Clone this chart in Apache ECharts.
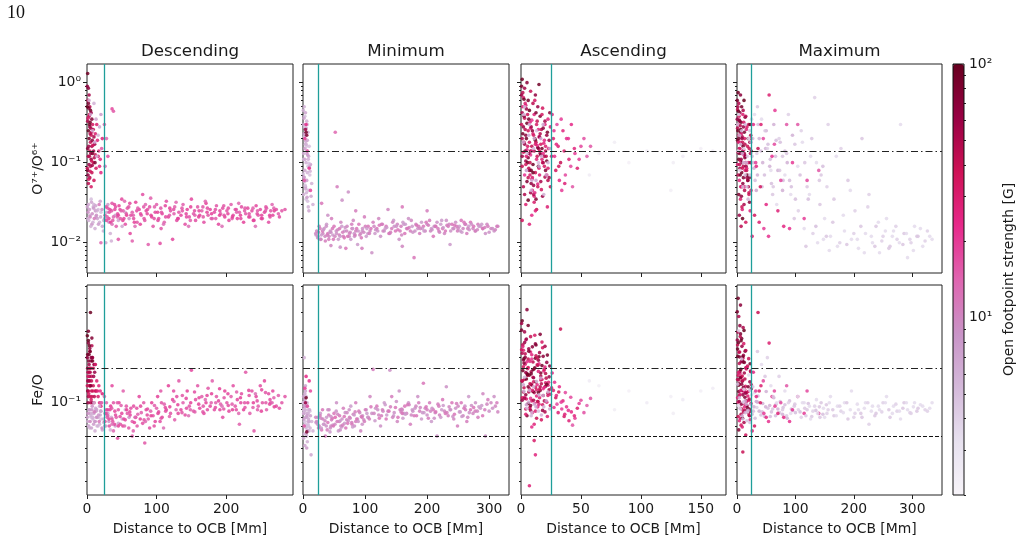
<!DOCTYPE html>
<html>
<head>
<meta charset="utf-8">
<script src="https://cdn.jsdelivr.net/npm/echarts@6/dist/echarts.min.js"></script>
<style>
html, body { margin: 0; padding: 0; background: #fff; }
#main { width: 1022px; height: 560px; }
</style>
</head>
<body>
<div id="main"></div>
<script>
// each point: [distance to OCB (Mm), open footpoint strength (G), O7+/O6+, Fe/O]
var descending = [
	[1,90,1.3,0.21],[2,70,0.85,0.25],[3,55,0.7,0.18],[2,80,0.55,0.3],[4,45,0.5,0.22],[5,95,0.45,0.4],[6,60,0.42,0.19],[3,40,0.38,0.16],
	[7,75,0.35,0.27],[1,50,0.33,0.14],[8,35,0.3,0.2],[4,65,0.28,0.23],[9,45,0.26,0.17],[2,100,0.25,0.26],[6,38,0.22,0.15],[10,55,0.21,0.18],
	[3,85,0.2,0.21],[5,42,0.18,0.13],[11,60,0.17,0.16],[7,48,0.16,0.24],[1,70,0.15,0.12],[4,36,0.14,0.14],[8,90,0.13,0.19],[12,40,0.125,0.12],
	[2,52,0.12,0.11],[6,66,0.11,0.2],[9,38,0.1,0.13],[3,58,0.095,0.15],[5,44,0.09,0.1],[13,35,0.085,0.12],[1,78,0.08,0.17],[7,40,0.075,0.11],
	[4,50,0.065,0.13],[10,36,0.06,0.1],[2,46,0.055,0.12],[6,34,0.05,0.105],
	[0.5,65,0.9,0.2],[1.5,45,0.6,0.16],[2.5,75,0.48,0.19],[3.5,38,0.4,0.13],[4.5,88,0.32,0.22],[5.5,52,0.27,0.17],[6.5,42,0.24,0.14],[7.5,68,0.19,0.2],
	[8.5,36,0.165,0.12],[9.5,58,0.14,0.15],[10.5,46,0.115,0.11],[11.5,80,0.1,0.18],[0.5,40,0.085,0.13],[1.5,62,0.07,0.1],[2.5,35,0.062,0.115],[3.5,92,0.3,0.24],
	[4.5,48,0.23,0.16],[5.5,70,0.13,0.13],[6.5,38,0.105,0.12],[7.5,55,0.092,0.1],[0.5,100,0.5,0.28],[1.5,33,0.36,0.15],[2.5,58,0.16,0.14],[3.5,44,0.12,0.17],[4.5,37,0.078,0.11],
	[14,30,0.3,0.14],[15,28,0.19,0.12],[16,32,0.12,0.11],[18,26,0.09,0.1],[12,30,0.23,0.18],[17,27,0.14,0.13],[20,25,0.075,0.095],[19,24,0.11,0.12],[22,28,0.2,0.115],
	[3,6,0.6,0.09],[5,7,0.4,0.085],[8,6,0.25,0.08],[11,8,0.18,0.075],[14,6,0.12,0.09],[6,5,0.035,0.08],[2,7,0.03,0.07],[9,6,0.028,0.085],
	[12,8,0.025,0.075],[4,6,0.022,0.068],[15,7,0.02,0.08],[18,6,0.018,0.072],[7,9,0.017,0.09],[20,5,0.024,0.078],[22,7,0.016,0.066],[10,6,0.03,0.1],
	[16,5,0.026,0.07],[13,8,0.021,0.088],[24,6,0.019,0.074],[19,7,0.033,0.083],[1,6,0.02,0.075],[27,7,0.01,0.07],[35,6,0.0105,0.08],[45,7,0.019,0.073],
	[55,6,0.024,0.09],[30,8,0.03,0.085],[10,6,0.55,0.085],[13,7,0.35,0.09],[16,6,0.22,0.08],[18,7,0.28,0.095],[20,8,0.4,0.088],
	[0.5,7,0.028,0.08],[1.5,9,0.024,0.085],[2.5,6,0.019,0.07],[3.5,8,0.026,0.09],[4.5,10,0.021,0.075],[5.5,6,0.016,0.082],[6.5,7,0.032,0.068],[7.5,9,0.023,0.095],
	[8.5,6,0.018,0.078],[9.5,8,0.027,0.072],[10.5,11,0.02,0.087],[11.5,6,0.015,0.065],[12.5,7,0.029,0.092],[13.5,9,0.022,0.08],[14.5,6,0.025,0.07],[16.5,8,0.017,0.083],
	[17.5,12,0.03,0.075],[19.5,7,0.021,0.088],[21.5,9,0.026,0.068],[23.5,6,0.014,0.078],[25.5,8,0.02,0.07],[28.5,7,0.024,0.083],[31.5,9,0.018,0.075],[33.5,6,0.013,0.066],
	[40.5,8,0.022,0.07],[50.5,7,0.016,0.078],[60.5,9,0.02,0.08],
	[36,18,0.47,0.13],[38,16,0.44,0.1],[25,15,0.3,0.11],[28,14,0.2,0.1],[30,17,0.12,0.09],[21,16,0.15,0.1],[26,12,0.09,0.085],
	[26,16,0.022,0.075],[28,18,0.019,0.09],[30,15,0.027,0.082],[32,17,0.024,0.07],[34,20,0.018,0.095],[36,16,0.031,0.078],[38,14,0.021,0.065],[40,18,0.026,0.088],
	[42,15,0.016,0.08],[44,17,0.023,0.058],[46,19,0.029,0.1],[48,16,0.02,0.072],[50,18,0.035,0.085],[52,15,0.025,0.12],[55,17,0.017,0.077],[57,20,0.022,0.09],
	[60,16,0.028,0.068],[62,18,0.013,0.083],[65,15,0.024,0.075],[67,17,0.02,0.095],[70,19,0.032,0.08],[72,16,0.018,0.07],[75,18,0.026,0.11],[78,15,0.022,0.086],
	[80,17,0.04,0.073],[83,16,0.019,0.054],[85,18,0.025,0.09],[88,15,0.0095,0.078],[90,17,0.028,0.068],[93,19,0.021,0.1],[95,16,0.016,0.082],[98,18,0.024,0.075],
	[100,15,0.03,0.092],[103,17,0.02,0.087],[106,16,0.027,0.12],[108,18,0.023,0.08],[111,15,0.018,0.098],[114,17,0.033,0.09],[117,19,0.021,0.13],[120,16,0.025,0.085],
	[123,18,0.011,0.105],[126,15,0.028,0.077],[129,17,0.019,0.11],[132,16,0.024,0.14],[135,18,0.022,0.09],[138,15,0.03,0.1],[141,17,0.017,0.083],[144,19,0.026,0.12],
	[147,16,0.021,0.095],[150,18,0.035,0.165],[153,15,0.023,0.088],[156,17,0.019,0.105],[159,16,0.028,0.13],[162,18,0.022,0.092],[165,15,0.025,0.11],[168,17,0.018,0.085],
	[171,19,0.031,0.1],[174,16,0.022,0.125],[177,18,0.026,0.095],[180,15,0.02,0.14],[183,17,0.024,0.09],[186,16,0.029,0.11],[189,18,0.017,0.103],[192,15,0.023,0.098],
	[195,17,0.027,0.08],[198,19,0.021,0.12],[201,16,0.025,0.1],[204,18,0.019,0.088],[207,15,0.03,0.11],[210,17,0.022,0.13],[213,16,0.026,0.095],[216,18,0.02,0.105],
	[219,15,0.024,0.072],[222,17,0.028,0.115],[225,19,0.018,0.09],[228,16,0.023,0.16],[231,18,0.027,0.1],[234,15,0.021,0.085],[237,17,0.025,0.12],[240,16,0.019,0.065],
	[243,18,0.029,0.11],[246,15,0.022,0.095],[249,17,0.026,0.13],[252,16,0.02,0.1],[255,18,0.024,0.14],[258,15,0.027,0.09],[261,17,0.018,0.115],[264,16,0.025,0.1],
	[267,18,0.022,0.12],[272,17,0.026,0.095],[280,16,0.025,0.1],
	[27.5,17,0.028,0.085],[31.5,19,0.02,0.078],[35.5,16,0.025,0.092],[39.5,18,0.03,0.072],[43.5,15,0.021,0.1],[47.5,17,0.026,0.081],[51.5,19,0.019,0.07],[56.5,16,0.023,0.095],
	[61.5,18,0.031,0.087],[66.5,15,0.022,0.065],[71.5,17,0.025,0.092],[76.5,19,0.017,0.078],[81.5,16,0.028,0.1],[86.5,18,0.023,0.083],[91.5,15,0.036,0.088],[96.5,17,0.02,0.07],
	[101.5,19,0.024,0.11],[106.5,16,0.015,0.079],[112.5,18,0.029,0.093],[118.5,15,0.022,0.081],[124.5,17,0.026,0.12],[130.5,19,0.02,0.097],[136.5,16,0.027,0.086],[142.5,18,0.023,0.107],
	[148.5,15,0.019,0.09],[154.5,17,0.025,0.118],[160.5,19,0.021,0.098],[166.5,16,0.028,0.087],[172.5,18,0.024,0.112],[178.5,15,0.02,0.1],[184.5,17,0.026,0.093],[190.5,19,0.022,0.124],
	[196.5,16,0.029,0.091],[202.5,18,0.023,0.115],[208.5,15,0.02,0.098],[214.5,17,0.026,0.09],[220.5,19,0.022,0.108],[226.5,16,0.025,0.1],[232.5,18,0.021,0.121],[238.5,15,0.027,0.093],
	[244.5,17,0.023,0.103],[250.5,19,0.02,0.088],[256.5,16,0.025,0.117],[262.5,18,0.022,0.098],[268.5,15,0.027,0.108],[276.5,17,0.021,0.092],[284.5,16,0.026,0.11],
	[65,15,0.0105,0.06],[105,17,0.0098,0.075],[45,16,0.011,0.09],[20,14,0.01,0.1],
	[29,15,0.021,0.08],[33,18,0.026,0.09],[37,16,0.019,0.075],[41,17,0.028,0.083],[45,19,0.022,0.07],[49,15,0.025,0.096],[53,18,0.02,0.078],[58,16,0.027,0.085],
	[63,17,0.022,0.092],[68,19,0.018,0.074],[73,15,0.027,0.084],[77,18,0.023,0.095],[82,16,0.02,0.077],[87,17,0.026,0.091],[92,19,0.022,0.082],[97,15,0.028,0.096],
	[102,18,0.019,0.085],[107,16,0.024,0.1],[113,17,0.021,0.088],[119,19,0.027,0.094],[125,15,0.023,0.102],[131,18,0.02,0.085],[137,16,0.025,0.112],[143,17,0.021,0.092],
	[149,19,0.028,0.1],[155,15,0.022,0.087],[161,18,0.025,0.108],[167,16,0.021,0.095],[173,17,0.027,0.09],[179,19,0.023,0.115],[185,15,0.02,0.1],[191,18,0.025,0.09],
	[197,16,0.022,0.108],[203,17,0.027,0.096],[209,19,0.021,0.09],[215,15,0.024,0.118],[221,18,0.02,0.1],[227,16,0.027,0.093],[233,17,0.023,0.112],[239,19,0.019,0.1],
	[245,15,0.025,0.09],[251,18,0.022,0.122],[257,16,0.028,0.1],[263,17,0.021,0.105],[269,19,0.025,0.094],[275,15,0.023,0.112],
	[36,13,0.017,0.072],[54,14,0.033,0.07],[69,13,0.016,0.08],[84,14,0.03,0.075],[110,13,0.017,0.068],[128,14,0.032,0.09],[146,13,0.016,0.082],[170,14,0.033,0.105],
	[194,13,0.016,0.095],[218,14,0.031,0.085],[242,13,0.016,0.115],[266,14,0.03,0.1]
];
var minimum = [
	[2,6,0.5,0.2],[4,7,0.42,0.12],[3,5,0.38,0.09],[6,6,0.33,0.08],[1,7,0.3,0.11],[5,8,0.27,0.1],[8,6,0.24,0.075],[2,5,0.21,0.07],
	[7,7,0.19,0.085],[4,6,0.17,0.095],[10,5,0.16,0.065],[3,8,0.15,0.105],[6,6,0.13,0.06],[9,7,0.12,0.078],[1,5,0.11,0.09],[5,6,0.1,0.068],
	[12,8,0.095,0.082],[8,5,0.09,0.072],[3,7,0.08,0.115],[7,6,0.075,0.055],[11,5,0.07,0.088],[2,6,0.065,0.062],[6,8,0.06,0.05],[14,6,0.055,0.075],
	[4,7,0.05,0.13],[9,5,0.045,0.07],[1,6,0.04,0.085],[13,7,0.038,0.045],[5,5,0.035,0.08],[16,6,0.03,0.065],
	[0.5,6,0.45,0.1],[1.5,7,0.36,0.085],[2.5,5,0.28,0.075],[3.5,6,0.22,0.09],[4.5,7,0.185,0.08],[5.5,5,0.16,0.07],[6.5,6,0.14,0.095],[7.5,8,0.125,0.065],
	[8.5,6,0.11,0.085],[9.5,5,0.098,0.075],[10.5,7,0.088,0.09],[11.5,6,0.078,0.068],[0.5,5,0.072,0.1],[1.5,8,0.066,0.078],[2.5,6,0.058,0.088],[3.5,5,0.052,0.072],
	[4.5,7,0.047,0.095],[5.5,6,0.042,0.062],[6.5,8,0.037,0.082],[7.5,5,0.033,0.07],[8.5,6,0.028,0.09],[9.5,7,0.025,0.075],[1,6,0.13,0.058],[3,7,0.11,0.052],
	[5,6,0.17,0.11],[2,8,0.23,0.095],[7,5,0.3,0.1],
	[5,90,0.24,0.108],[6,80,0.22,0.064],[4,60,0.26,0.1],
	[3,20,0.2,0.125],[7,18,0.14,0.095],[10,22,0.085,0.14],[2,16,0.06,0.07],[12,18,0.045,0.12],[5,24,0.3,0.15],
	[22,10,0.014,0.075],[24,9,0.012,0.08],[26,11,0.016,0.07],[28,8,0.011,0.085],[30,12,0.031,0.066],[32,10,0.013,0.078],[34,9,0.015,0.072],[36,11,0.0105,0.06],
	[38,8,0.017,0.08],[40,12,0.013,0.074],[42,10,0.012,0.09],[44,9,0.014,0.068],[46,11,0.02,0.077],[48,8,0.0125,0.071],[50,12,0.016,0.085],[52,14,0.24,0.08],
	[54,9,0.013,0.1],[55,11,0.05,0.075],[57,8,0.011,0.065],[59,12,0.015,0.082],[61,10,0.018,0.07],[63,9,0.034,0.078],[65,11,0.012,0.092],[67,8,0.014,0.073],
	[69,12,0.0085,0.068],[71,10,0.016,0.086],[73,9,0.043,0.076],[75,11,0.013,0.08],[77,8,0.011,0.095],[79,12,0.015,0.072],[81,10,0.019,0.084],[83,9,0.012,0.07],
	[85,11,0.014,0.1],[88,8,0.0095,0.078],[90,12,0.017,0.088],[93,10,0.013,0.065],[96,9,0.015,0.082],[99,11,0.021,0.075],[102,8,0.012,0.09],[105,12,0.016,0.08],
	[108,10,0.014,0.11],[111,9,0.0075,0.085],[113,11,0.018,0.167],[116,8,0.013,0.076],[119,12,0.015,0.095],[122,10,0.02,0.083],[125,9,0.012,0.07],[128,11,0.017,0.09],
	[131,8,0.014,0.1],[134,12,0.016,0.078],[137,10,0.026,0.088],[140,9,0.013,0.165],[143,11,0.015,0.11],[146,8,0.019,0.082],[149,12,0.014,0.093],[152,10,0.017,0.075],
	[155,9,0.011,0.12],[158,11,0.016,0.087],[161,8,0.018,0.079],[164,12,0.013,0.095],[167,10,0.015,0.085],[170,9,0.02,0.1],[173,11,0.014,0.072],[176,8,0.016,0.09],
	[179,12,0.0065,0.082],[182,10,0.017,0.095],[185,9,0.015,0.11],[188,11,0.013,0.088],[191,8,0.018,0.078],[194,12,0.016,0.135],[197,10,0.014,0.092],[200,9,0.017,0.083],
	[204,11,0.019,0.1],[207,8,0.015,0.075],[210,12,0.012,0.09],[213,10,0.016,0.086],[216,9,0.018,0.06],[219,11,0.014,0.095],[222,8,0.017,0.08],[225,12,0.015,0.105],
	[228,10,0.013,0.088],[231,9,0.019,0.128],[234,11,0.016,0.082],[237,8,0.0095,0.09],[240,12,0.017,0.1],[243,10,0.015,0.078],[246,9,0.018,0.092],[249,11,0.014,0.07],
	[252,8,0.016,0.087],[255,12,0.019,0.1],[258,10,0.015,0.082],[261,9,0.017,0.095],[264,11,0.013,0.075],[267,8,0.016,0.11],[270,12,0.018,0.09],[274,10,0.015,0.085],
	[278,9,0.014,0.1],[282,11,0.017,0.08],[286,8,0.016,0.092],[290,10,0.015,0.115],[294,9,0.013,0.06],[298,11,0.016,0.105],[303,10,0.015,0.1],[308,9,0.014,0.11],
	[314,10,0.016,0.087],
	[20.5,10,0.013,0.08],[23.5,9,0.0115,0.072],[27.5,11,0.015,0.082],[29.5,8,0.0125,0.068],[31.5,12,0.014,0.09],[35.5,10,0.012,0.076],[37.5,9,0.016,0.07],[41.5,11,0.011,0.083],
	[43.5,8,0.0135,0.064],[47.5,12,0.015,0.079],[51.5,10,0.012,0.072],[53.5,9,0.014,0.088],[58.5,11,0.0125,0.075],[62.5,8,0.016,0.069],[66.5,12,0.0115,0.081],[70.5,10,0.014,0.077],
	[74.5,9,0.012,0.09],[78.5,11,0.017,0.074],[82.5,8,0.013,0.083],[86.5,12,0.015,0.078],[91.5,10,0.0125,0.086],[95.5,9,0.014,0.072],[100.5,11,0.016,0.09],[104.5,8,0.013,0.08],
	[109.5,12,0.015,0.094],[114.5,10,0.016,0.085],[120.5,9,0.014,0.09],[126.5,11,0.017,0.082],[132.5,8,0.015,0.097],[138.5,12,0.013,0.088],[144.5,10,0.018,0.08],[150.5,9,0.016,0.102],
	[156.5,11,0.014,0.09],[162.5,8,0.017,0.085],[168.5,12,0.015,0.097],[174.5,10,0.019,0.083],[180.5,9,0.014,0.092],[186.5,11,0.016,0.1],[192.5,8,0.015,0.086],[198.5,12,0.018,0.094],
	[205.5,10,0.014,0.088],[211.5,9,0.016,0.079],[217.5,11,0.015,0.098],[223.5,8,0.019,0.09],[229.5,12,0.014,0.085],[235.5,10,0.017,0.094],[241.5,9,0.015,0.081],[247.5,11,0.016,0.099],
	[253.5,8,0.014,0.087],[259.5,12,0.018,0.092],[265.5,10,0.015,0.08],[271.5,9,0.017,0.096],[277.5,11,0.014,0.088],[283.5,8,0.016,0.094],[289.5,12,0.015,0.082],[296.5,10,0.017,0.098],
	[305.5,9,0.015,0.092],[312.5,11,0.016,0.1],
	[45,10,0.0092,0.07],[60,9,0.0088,0.066],[95,11,0.0085,0.08],[160,10,0.009,0.09],[40,9,0.022,0.09],[85,11,0.025,0.075],[160,12,0.028,0.085],[200,11,0.025,0.09],
	[21,9,0.0125,0.074],[25,11,0.0135,0.068],[29,10,0.011,0.079],[33,8,0.0145,0.072],[39,11,0.0125,0.066],[45,9,0.0135,0.081],[49,12,0.011,0.07],[56,10,0.0145,0.084],
	[60,8,0.012,0.076],[64,11,0.0135,0.071],[68,9,0.0155,0.086],[72,12,0.012,0.073],[76,10,0.0135,0.079],[80,8,0.015,0.069],[84,11,0.0125,0.087],[89,9,0.014,0.075],
	[94,12,0.0115,0.081],[98,10,0.0135,0.077],[103,8,0.015,0.085],[107,11,0.013,0.078],[117,9,0.0145,0.092],[123,12,0.0165,0.079],[129,10,0.014,0.088],[135,8,0.0155,0.083],
	[141,11,0.0135,0.094],[147,9,0.016,0.086],[153,12,0.0145,0.08],[159,10,0.0125,0.091],[165,8,0.017,0.084],[171,11,0.0155,0.097],[177,9,0.0135,0.088],[183,12,0.0165,0.082],
	[189,10,0.015,0.093],[195,8,0.014,0.086],[202,11,0.0165,0.079],[208,9,0.0145,0.092],[214,12,0.016,0.087],[220,10,0.0135,0.083],[226,8,0.0155,0.096],[232,11,0.0165,0.086],
	[238,9,0.014,0.09],[244,12,0.0165,0.084],[250,10,0.015,0.095],[256,8,0.0135,0.081],[262,11,0.017,0.09],[268,9,0.0145,0.086],[275,12,0.016,0.093],[281,10,0.0145,0.088],
	[288,8,0.017,0.096],[293,11,0.0155,0.09],[300,9,0.0135,0.088],[310,10,0.0145,0.095]
];
var ascending = [
	[1,95,1.1,0.352],[5,70,1.0,0.418],[15,90,0.95,0.203],[3,55,0.85,0.297],[8,40,0.78,0.276],[12,65,0.7,0.247],[2,30,0.65,0.224],[6,85,0.6,0.328],
	[10,45,0.55,0.187],[4,25,0.52,0.262],[14,60,0.5,0.178],[18,35,0.48,0.233],[7,100,0.45,0.153],[1,50,0.42,0.214],[11,28,0.4,0.168],[16,75,0.38,0.286],
	[3,40,0.36,0.143],[9,22,0.34,0.196],[20,55,0.33,0.238],[5,90,0.31,0.157],[13,32,0.3,0.122],[2,65,0.28,0.193],[8,26,0.27,0.218],[17,45,0.26,0.134],
	[6,38,0.25,0.172],[22,80,0.24,0.208],[10,30,0.23,0.148],[4,70,0.22,0.113],[15,24,0.21,0.182],[1,48,0.2,0.139],[12,95,0.19,0.198],[7,34,0.18,0.124],
	[19,27,0.175,0.163],[3,60,0.17,0.252],[9,42,0.16,0.131],[14,85,0.155,0.102],[23,29,0.15,0.137],[5,23,0.145,0.188],[11,52,0.14,0.117],[2,36,0.135,0.174],
	[16,68,0.13,0.121],[8,21,0.125,0.107],[21,44,0.12,0.146],[6,78,0.115,0.128],[13,26,0.11,0.111],[4,58,0.105,0.159],[18,33,0.1,0.097],[10,90,0.095,0.119],
	[1,40,0.09,0.141],[15,28,0.085,0.098],[7,64,0.08,0.092],[12,37,0.075,0.127],[3,22,0.07,0.109],[20,50,0.066,0.087],[9,30,0.062,0.103],[5,75,0.058,0.082],
	[14,25,0.054,0.094],[2,45,0.05,0.118],[17,35,0.046,0.077],[8,55,0.042,0.089],[11,27,0.038,0.072],[6,95,0.034,0.099],[4,30,0.03,0.084],[13,40,0.026,0.079],
	[9,24,0.022,0.069],[1,35,0.019,0.108],[7,28,0.017,0.028],[11,32,0.032,0.056],[12,26,0.025,0.045],
	[0.5,80,0.9,0.305],[1.5,45,0.75,0.244],[2.5,95,0.62,0.197],[3.5,30,0.55,0.181],[4.5,60,0.47,0.266],[5.5,38,0.4,0.152],[6.5,85,0.35,0.221],[7.5,26,0.32,0.189],
	[8.5,55,0.28,0.161],[9.5,70,0.25,0.236],[10.5,34,0.22,0.138],[11.5,90,0.2,0.171],[12.5,42,0.18,0.206],[13.5,24,0.165,0.132],[14.5,65,0.15,0.192],[15.5,36,0.14,0.123],
	[16.5,80,0.125,0.158],[17.5,28,0.11,0.143],[18.5,50,0.1,0.112],[19.5,33,0.09,0.167],[20.5,75,0.08,0.129],[21.5,27,0.07,0.101],[22.5,45,0.06,0.116],[23.5,60,0.19,0.149],
	[24.5,30,0.28,0.114],[0.5,35,0.3,0.226],[1.5,88,0.23,0.164],[2.5,40,0.18,0.126],[3.5,72,0.14,0.201],[4.5,29,0.12,0.106],[5.5,95,0.1,0.154],[6.5,46,0.085,0.118],
	[7.5,31,0.07,0.093],[8.5,66,0.055,0.133],[9.5,25,0.045,0.086],[10.5,50,0.04,0.104],[11.5,33,0.6,0.282],[12.5,78,0.42,0.243],[13.5,40,0.33,0.199],[14.5,27,0.26,0.162],
	[15.5,57,0.21,0.216],[16.5,35,0.17,0.142],[17.5,85,0.15,0.177],[18.5,24,0.13,0.124],[19.5,48,0.12,0.103],[20.5,30,0.16,0.136],[21.5,62,0.22,0.186],[22.5,26,0.35,0.131],
	[0.5,55,0.7,0.338],[1.5,28,0.5,0.237],[2.5,70,0.38,0.184],[3.5,44,0.26,0.212],[4.5,90,0.2,0.144],[5.5,33,0.16,0.169],[6.5,62,0.13,0.229],[7.5,40,0.1,0.134],
	[8.5,85,0.08,0.156],[9.5,30,0.065,0.121],[10.5,58,0.052,0.147],[11.5,26,0.042,0.099],[12.5,75,0.035,0.138],[13.5,38,0.12,0.179],[14.5,95,0.09,0.117],[15.5,29,0.07,0.108],
	[16.5,52,0.058,0.151],[17.5,34,0.4,0.254],[18.5,68,0.27,0.204],[19.5,25,0.19,0.127],[20.5,46,0.14,0.157],[21.5,88,0.105,0.133],[22.5,32,0.085,0.112],[23.5,54,0.065,0.122],
	[24.5,40,0.05,0.096],[1,60,0.12,0.104],[4,35,0.095,0.091],[8,78,0.14,0.096],[12,30,0.17,0.088],[16,48,0.23,0.128],[20,27,0.3,0.173],[24,70,0.42,0.176],
	[6,40,0.065,0.196],[10,92,0.075,0.166],[14,36,0.05,0.102],[18,58,0.038,0.089],[22,29,0.028,0.081],[3,50,0.04,0.107],[9,26,0.14,0.209],
	[3,6,0.5,0.148],[7,7,0.3,0.121],[11,6,0.2,0.098],[5,5,0.13,0.092],[15,7,0.09,0.113],[9,6,0.06,0.086],[19,6,0.04,0.094],[2,7,0.18,0.132],
	[13,5,0.25,0.139],[17,6,0.12,0.083],[21,8,0.07,0.103],[24,7,0.15,0.091],
	[2.5,6,0.4,0.119],[6.5,7,0.22,0.101],[10.5,6,0.15,0.128],[14.5,5,0.1,0.088],[18.5,7,0.3,0.112],[4.5,8,0.08,0.097],[8.5,6,0.045,0.082],[22.5,6,0.1,0.118],
	[12.5,7,0.06,0.094],[16.5,8,0.2,0.146],
	[26,25,0.4,0.158],[27,30,0.2,0.121],[28,22,0.12,0.137],[29,35,0.08,0.108],[30,18,0.3,0.098],[31,28,0.16,0.086],[32,24,0.06,0.128],[33,40,0.1,0.31],
	[34,20,0.045,0.091],[35,26,0.25,0.103],[36,32,0.14,0.081],[37,18,0.07,0.117],[38,22,0.2,0.094],[40,28,0.11,0.076],[42,24,0.3,0.087],[43,16,0.05,0.071],
	[45,20,0.13,0.079],[47,30,0.085,0.092],[50,18,0.16,0.104],[55,15,0.12,0.096],[58,16,0.16,0.107],
	[25.5,30,0.12,0.126],[27.5,22,0.25,0.093],[29.5,26,0.17,0.112],[31.5,35,0.09,0.118],[33.5,20,0.35,0.101],[36.5,28,0.055,0.084],[39.5,22,0.2,0.089],[41.5,18,0.09,0.109],
	[44.5,26,0.15,0.082],[48.5,20,0.11,0.099],[52.5,17,0.2,0.086],
	[57,2.5,0.07,0.14],[65,2.3,0.13,0.13],[78,2.4,0.18,0.09],[90,2.2,0.1,0.12],[105,2.5,0.14,0.1],[125,2.3,0.045,0.11],[127,2.4,0.1,0.085],[135,2.6,0.12,0.105],
	[150,2.3,0.15,0.12],[160,2.5,0.14,0.125]
];
var maximum = [
	[2,90,0.75,0.497],[6,70,0.7,0.448],[12,100,0.6,0.304],[3,50,0.55,0.376],[8,85,0.5,0.268],[1,40,0.46,0.243],[5,65,0.42,0.327],[10,30,0.4,0.198],
	[14,75,0.37,0.221],[4,45,0.34,0.183],[7,95,0.32,0.259],[2,35,0.3,0.152],[11,60,0.28,0.207],[16,28,0.26,0.168],[6,80,0.24,0.288],[3,42,0.22,0.142],
	[9,55,0.21,0.191],[13,33,0.2,0.123],[1,90,0.19,0.228],[5,26,0.18,0.157],[8,70,0.17,0.133],[18,38,0.16,0.176],[4,48,0.15,0.112],[10,85,0.14,0.203],
	[2,30,0.135,0.101],[7,62,0.13,0.148],[12,25,0.125,0.118],[15,50,0.12,0.171],[3,95,0.11,0.131],[6,36,0.105,0.092],[9,72,0.1,0.139],[1,28,0.095,0.108],
	[11,44,0.09,0.087],[5,58,0.085,0.162],[14,30,0.08,0.098],[8,88,0.075,0.121],[2,40,0.07,0.081],[17,55,0.065,0.096],[4,26,0.06,0.076],[10,66,0.055,0.113],
	[7,34,0.05,0.071],[13,48,0.045,0.089],[3,78,0.04,0.066],[6,30,0.035,0.079],[12,52,0.03,0.074],[9,28,0.026,0.069],[4,60,0.022,0.102],[15,35,0.018,0.061],
	[7,45,0.016,0.084],[20,40,0.3,0.197],[22,60,0.18,0.138],[19,32,0.1,0.119],[21,75,0.065,0.091],[24,28,0.045,0.099],[23,50,0.13,0.163],[10,40,0.05,0.047],
	[0.5,80,0.6,0.404],[1.5,50,0.5,0.296],[2.5,95,0.44,0.252],[3.5,35,0.38,0.217],[4.5,70,0.33,0.202],[5.5,45,0.29,0.277],[6.5,100,0.26,0.167],[7.5,30,0.23,0.149],
	[8.5,60,0.2,0.238],[9.5,40,0.18,0.141],[10.5,85,0.16,0.187],[11.5,28,0.145,0.122],[12.5,55,0.13,0.158],[13.5,75,0.115,0.109],[14.5,33,0.1,0.129],[15.5,65,0.09,0.103],
	[16.5,42,0.08,0.117],[17.5,90,0.07,0.093],[18.5,30,0.06,0.111],[19.5,50,0.05,0.086],[20.5,36,0.04,0.104],[21.5,70,0.032,0.082],[22.5,27,0.025,0.077],[23.5,45,0.22,0.161],
	[24.5,60,0.14,0.124],[1,45,0.27,0.143],[3,85,0.2,0.119],[5,30,0.15,0.114],[7,60,0.11,0.188],[9,38,0.085,0.151],[11,72,0.065,0.127],[13,26,0.05,0.094],
	[15,48,0.38,0.223],[17,33,0.28,0.172],[19,80,0.2,0.128],[21,40,0.15,0.106],[23,55,0.1,0.088],
	[0.5,60,0.35,0.262],[1.5,90,0.25,0.204],[2.5,32,0.18,0.159],[3.5,75,0.13,0.134],[4.5,44,0.095,0.218],[5.5,85,0.07,0.147],[6.5,28,0.05,0.121],[7.5,66,0.038,0.098],
	[8.5,38,0.028,0.091],[9.5,95,0.02,0.079],[10.5,52,0.45,0.318],[11.5,33,0.32,0.248],[12.5,80,0.24,0.186],[13.5,46,0.17,0.144],[14.5,60,0.12,0.116],[16.5,30,0.085,0.102],
	[18.5,72,0.06,0.089],[20.5,40,0.042,0.083],[22.5,90,0.3,0.182],[24.5,35,0.2,0.132],
	[3,4,0.4,0.302],[8,5,0.25,0.196],[12,3.5,0.15,0.123],[16,6,0.1,0.098],[5,4,0.08,0.092],[10,5,0.05,0.078],[20,3.5,0.2,0.153],[14,6,0.3,0.103],
	[18,4,0.12,0.087],[22,5,0.07,0.074],[2,3.5,0.14,0.096],[25,4,0.35,0.113],[27,5,0.2,0.128],[30,3.5,0.4,0.117],[34,4,0.13,0.093],
	[1,5,0.3,0.133],[4,6,0.22,0.108],[6,5,0.17,0.091],[9,7,0.13,0.082],[11,5,0.1,0.101],[14,6,0.07,0.086],[17,5,0.05,0.076],[19,6,0.035,0.089],
	[22,5,0.25,0.121],[24,7,0.18,0.097],[26,5,0.12,0.084],[29,6,0.085,0.094],[31,5,0.06,0.079],[33,7,0.045,0.102],[36,5,0.3,0.111],[38,6,0.2,0.088],
	[41,5,0.14,0.083],[44,6,0.1,0.099],[47,5,0.07,0.081],[50,6,0.25,0.119],[53,5,0.17,0.092],[56,6,0.09,0.096],[59,5,0.055,0.087],[63,6,0.3,0.108],
	[66,5,0.12,0.082],[70,6,0.08,0.091],[74,5,0.18,0.102],[78,6,0.045,0.084],[82,5,0.14,0.097],[86,6,0.1,0.079],[90,5,0.06,0.103],[95,6,0.22,0.089],[100,5,0.035,0.086],
	[28,5,0.1,0.088],[35,6,0.07,0.101],[43,5,0.05,0.087],[49,6,0.15,0.094],[57,5,0.11,0.081],[61,4.5,0.04,0.091],[67,5,0.19,0.098],[73,4.5,0.08,0.086],
	[79,5,0.06,0.093],[85,4.5,0.13,0.082],[93,5,0.05,0.091],[99,4.5,0.17,0.098],[108,5,0.07,0.087],[116,4.5,0.1,0.092],[122,5,0.035,0.099],[128,4.5,0.2,0.081],
	[135,5,0.016,0.089],[141,4.5,0.06,0.094],[147,5,0.09,0.084],[153,4.5,0.012,0.097],
	[55,30,0.7,0.25],[36,40,0.15,0.4],[28,25,0.3,0.16],[32,20,0.1,0.12],[40,35,0.05,0.1],[45,18,0.2,0.14],[50,25,0.03,0.08],[60,22,0.12,0.11],
	[65,20,0.45,0.095],[70,28,0.025,0.085],[75,18,0.06,0.1],[85,16,0.3,0.13],[90,22,0.015,0.075],[95,20,0.1,0.09],[120,18,0.06,0.12],[140,16,0.08,0.085],
	[30,35,0.022,0.07],[38,30,0.018,0.12],[26,28,0.012,0.065],
	[33,25,0.09,0.11],[41,30,0.3,0.13],[46,20,0.015,0.085],[54,22,0.012,0.075],[64,18,0.17,0.12],[80,25,0.016,0.08],[104,16,0.3,0.11],[115,20,0.02,0.085],
	[35,4.5,0.5,0.22],[42,3.5,0.35,0.18],[48,4.5,0.25,0.15],[52,4,0.15,0.2],[58,3.5,0.08,0.13],[62,4.5,0.05,0.11],[68,3.5,0.03,0.1],[72,4,0.2,0.15],
	[78,4.5,0.12,0.09],[82,3.5,0.07,0.12],[88,4,0.4,0.1],[92,3.5,0.04,0.085],[98,4.5,0.02,0.095],[104,3.5,0.09,0.11],[110,4,0.25,0.08],[115,3.5,0.015,0.1],
	[120,4.5,0.05,0.09],[126,3.5,0.12,0.078],[133,4,0.65,0.095],[138,3.5,0.01,0.085],[144,4.5,0.07,0.1],[150,3.5,0.02,0.08],[156,4,0.3,0.09],[160,3.5,0.012,0.11],
	[166,4.5,0.035,0.082],[172,3.5,0.009,0.095],[178,4,0.15,0.088],[184,3.5,0.014,0.1],[190,4.5,0.06,0.078],[196,3.5,0.011,0.12],[202,4,0.025,0.085],[208,3.5,0.0085,0.09],
	[214,4.5,0.2,0.08],[220,3.5,0.013,0.1],[226,4,0.04,0.072],[232,3.5,0.01,0.095],[238,4.5,0.016,0.085],[244,3.5,0.0075,0.09],[250,4,0.012,0.1],[256,3.5,0.02,0.11],
	[262,4.5,0.009,0.08],[268,3.5,0.014,0.095],[274,4,0.011,0.088],[280,3.5,0.3,0.078],[286,4.5,0.013,0.1],[292,3.5,0.0065,0.09],[298,4,0.01,0.085],[304,3.5,0.016,0.1],
	[310,4.5,0.012,0.092],[318,3.5,0.009,0.095],[326,4,0.014,0.088],[334,3.5,0.011,0.1],
	[105,4,0.025,0.09],[112,3.5,0.18,0.1],[118,4.5,0.009,0.082],[124,3.5,0.04,0.095],[130,4,0.013,0.088],[136,3.5,0.1,0.105],[142,4.5,0.03,0.08],[148,3.5,0.011,0.092],
	[154,4,0.05,0.085],[158,3.5,0.008,0.1],[164,4.5,0.018,0.09],[170,3.5,0.12,0.082],[176,4,0.01,0.095],[182,3.5,0.022,0.086],[188,4.5,0.0095,0.1],[194,3.5,0.045,0.09],
	[200,4,0.013,0.08],[206,3.5,0.011,0.098],[212,4.5,0.016,0.085],[218,3.5,0.0075,0.092],[224,4,0.028,0.1],[230,3.5,0.012,0.088],[236,4.5,0.009,0.082],[242,3.5,0.018,0.095],
	[248,4,0.0105,0.087],[254,3.5,0.014,0.1],[260,4.5,0.0085,0.09],[266,3.5,0.012,0.085],[272,4,0.016,0.098],[278,3.5,0.01,0.088],[284,4.5,0.0095,0.092],[290,3.5,0.013,0.1],
	[296,4,0.011,0.086],[302,3.5,0.008,0.094],[308,4.5,0.012,0.088],[314,3.5,0.015,0.097],[322,4,0.0105,0.09],[330,3.5,0.012,0.092]
];

var panelTitles = ['Descending', 'Minimum', 'Ascending', 'Maximum'];
var panelData = [descending, minimum, ascending, maximum];
var xMax = [296, 332, 171, 351];
var xTicks = [[0, 100, 200], [0, 100, 200, 300], [0, 50, 100, 150], [0, 100, 200, 300]];
var rowNames = ['O\u2077\u207a/O\u2076\u207a', 'Fe/O'];
var yRange = [[0.00418, 1.71], [0.0243, 0.61]];
var yMajor = [[0.01, 0.1, 1], [0.1]];
var yMinor = [
	[0.005, 0.006, 0.007, 0.008, 0.009, 0.02, 0.03, 0.04, 0.05, 0.06, 0.07, 0.08, 0.09, 0.2, 0.3, 0.4, 0.5, 0.6, 0.7, 0.8, 0.9],
	[0.03, 0.04, 0.05, 0.06, 0.07, 0.08, 0.09, 0.2, 0.3, 0.4, 0.5, 0.6]
];
var ocbDistance = 25;
var oThreshold = 0.145;
var feUpper = 0.172;
var feLower = 0.06;
var bRange = [2, 100];
var bMajor = [10, 100];
var bMinor = [2, 3, 4, 5, 6, 7, 8, 9, 20, 30, 40, 50, 60, 70, 80, 90];
var puRd = ['#f7f4f9', '#e7e1ef', '#d4b9da', '#c994c7', '#df65b0', '#e7298a', '#ce1256', '#980043', '#67001f'];

var colLeft = [87, 303, 521, 737];
var colWidth = [206, 206, 205, 205];
var rowTop = [64, 285];
var rowHeight = [209, 210];
var font = 'DejaVu Sans';
var ink = '#1a1a1a';

var SUP = {'-': '\u207b', '0': '\u2070', '1': '\u00b9', '2': '\u00b2', '3': '\u00b3'};
function powLabel(v) {
	var e = Math.round(Math.log10(v));
	return '10' + String(e).split('').map(function (ch) { return SUP[ch]; }).join('');
}

var grids = [], xAxes = [], yAxes = [], series = [], titles = [];
for (var r = 0; r < 2; r++) {
	for (var c = 0; c < 4; c++) {
		var gi = grids.length;
		grids.push({
			left: colLeft[c], top: rowTop[r], width: colWidth[c], height: rowHeight[r],
			show: true, borderColor: '#222', borderWidth: 1, containLabel: false
		});
		xAxes.push({
			gridIndex: gi, type: 'value', min: 0, max: xMax[c],
			axisLine: {show: false},
			axisTick: {show: true, length: 4, customValues: xTicks[c], lineStyle: {color: '#222'}},
			axisLabel: {show: r == 1, customValues: xTicks[c], margin: 7, fontSize: 13.9, color: ink, fontFamily: font},
			splitLine: {show: false},
			name: r == 1 ? 'Distance to OCB [Mm]' : '',
			nameLocation: 'middle', nameGap: 27,
			nameTextStyle: {fontSize: 13.9, color: ink, fontFamily: font}
		});
		// main log axis: data, major ticks, labels
		yAxes.push({
			gridIndex: gi, type: 'log', position: 'left', min: yRange[r][0], max: yRange[r][1],
			axisLine: {show: false},
			axisTick: {show: true, length: 4, customValues: yMajor[r], lineStyle: {color: '#222'}},
			axisLabel: {show: c == 0, customValues: yMajor[r], formatter: powLabel, margin: 6, fontSize: 13.9, color: ink, fontFamily: font},
			splitLine: {show: false},
			name: c == 0 ? rowNames[r] : '',
			nameLocation: 'middle', nameGap: 42,
			nameTextStyle: {fontSize: 13.9, color: ink, fontFamily: font}
		});
		// minor ticks only
		yAxes.push({
			gridIndex: gi, type: 'log', position: 'left', min: yRange[r][0], max: yRange[r][1],
			axisLine: {show: false},
			axisTick: {show: true, length: 2, customValues: yMinor[r], lineStyle: {color: '#222'}},
			axisLabel: {show: false},
			splitLine: {show: false}
		});
		var lines = [
			{xAxis: ocbDistance, lineStyle: {color: '#1f9e9a', width: 1.3, type: 'solid'}},
			{yAxis: r == 0 ? oThreshold : feUpper, lineStyle: {color: '#222', width: 1, type: [7, 3, 1.5, 3]}}
		];
		if (r == 1) lines.push({yAxis: feLower, lineStyle: {color: '#111', width: 1, type: [4, 2]}});
		series.push({
			type: 'scatter', xAxisIndex: gi, yAxisIndex: gi * 2,
			symbolSize: 3.6,
			itemStyle: {opacity: 0.85},
			data: panelData[c].map(function (p) { return [p[0], p[2 + r], Math.log10(p[1])]; }),
			markLine: {silent: true, symbol: 'none', label: {show: false}, animation: false, data: lines},
			z: 2
		});
		if (r == 0) {
			titles.push({
				text: panelTitles[c], left: colLeft[c] + colWidth[c] / 2, top: 43, textAlign: 'center', padding: 0,
				textStyle: {fontSize: 16.7, fontWeight: 'normal', color: ink, fontFamily: font}
			});
		}
	}
}

// colour bar frame and ticks
var cb = grids.length;
grids.push({left: 953, top: 64, width: 11, height: 431, show: true, borderColor: '#111', borderWidth: 1, z: 10});
xAxes.push({gridIndex: cb, type: 'value', show: false, min: 0, max: 1});
yAxes.push({
	gridIndex: cb, type: 'log', position: 'right', min: bRange[0], max: bRange[1],
	axisLine: {show: false},
	axisTick: {show: true, length: 4, customValues: bMajor, lineStyle: {color: '#222'}},
	axisLabel: {show: true, customValues: bMajor, formatter: powLabel, margin: 5, fontSize: 13.9, color: ink, fontFamily: font},
	splitLine: {show: false},
	name: 'Open footpoint strength [G]', nameLocation: 'middle', nameGap: 38, nameRotate: 90,
	nameTextStyle: {fontSize: 13.9, color: ink, fontFamily: font}
});
yAxes.push({
	gridIndex: cb, type: 'log', position: 'right', min: bRange[0], max: bRange[1],
	axisLine: {show: false},
	axisTick: {show: true, length: 2, customValues: bMinor, lineStyle: {color: '#222'}},
	axisLabel: {show: false}, splitLine: {show: false}
});

var myChart = echarts.init(document.getElementById('main'));
var option = {
	animation: false,
	backgroundColor: '#fff',
	title: titles,
	grid: grids,
	xAxis: xAxes,
	yAxis: yAxes,
	visualMap: {
		type: 'continuous', seriesIndex: [0, 1, 2, 3, 4, 5, 6, 7], dimension: 2,
		min: Math.log10(bRange[0]), max: Math.log10(bRange[1]),
		inRange: {color: puRd},
		left: 953, top: 64, itemWidth: 11, itemHeight: 431, padding: 0,
		calculable: false, hoverLink: false, text: null, showLabel: false
	},
	graphic: [{
		type: 'text', left: 7, top: 4,
		style: {text: '10', fontSize: 18, fontFamily: 'Liberation Serif', fill: '#111'}
	}],
	series: series
};
myChart.setOption(option);
</script>
</body>
</html>
